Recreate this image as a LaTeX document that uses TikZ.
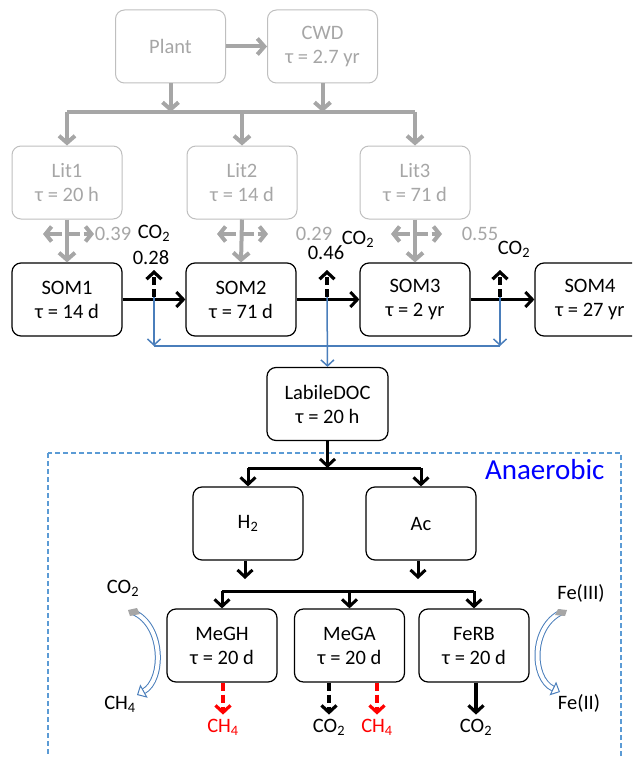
\documentclass[tikz,border=0pt]{standalone}
\usepackage{fontspec}
\setmainfont{Carlito}
\usepackage{tikz}
\usetikzlibrary{arrows.meta}
\definecolor{grisclaro}{HTML}{A6A6A6}
\definecolor{grisborde}{HTML}{BFBFBF}
\definecolor{azul}{HTML}{4A7EBB}
\definecolor{azulclaro}{HTML}{5B9BD5}

\begin{document}
\begin{tikzpicture}[x=1pt, y=-1pt,
    texto/.style={font=\fontsize{20.5}{24}\selectfont, inner sep=1pt},
    caja/.style={texto, draw, rounded corners=9pt, line width=1.2pt,
        minimum width=110pt, minimum height=73pt, align=center},
    cajagris/.style={caja, draw=grisborde, text=grisclaro, line width=1pt},
    flechagris/.style={-{Straight Barb[length=7pt,width=16pt]}, line width=4pt, grisclaro},
    lineagris/.style={line width=4pt, grisclaro},
    flecha/.style={-{Straight Barb[length=7pt,width=15pt]}, line width=3pt},
    linea/.style={line width=3pt},
    flechaazul/.style={-{Straight Barb[length=6pt,width=13pt]}, line width=1.5pt, azul},
    salida/.style={flecha, line width=3.2pt, dash pattern=on 8pt off 4pt},
    curva/.style={draw=azul, line width=1pt, double=white, double distance=4pt,
        -{Triangle[open, length=8pt, width=15pt]}}]

% Marco
\path[use as bounding box] (0,0) rectangle (632,757);
\clip (0,0) rectangle (632,757);

% Zona anaerobica
\draw[azulclaro, line width=1.3pt, dash pattern=on 5pt off 3pt] (48,453) rectangle (621,790);
\node[font=\fontsize{29}{33}\selectfont, text=blue, anchor=east] (anaer) at (608,470) {Anaerobic};

% Planta y hojarasca
\node[cajagris] (plant) at (170.5,46.5) {Plant};
\node[cajagris] (cwd) at (322.5,46.5) {CWD\\τ = 2.7 yr};
\foreach \n/\x/\vida in {1/67/20 h, 2/242/14 d, 3/415/71 d}
    \node[cajagris] (lit\n) at (\x,182.5) {Lit\n\\τ = \vida};

% Suelo
\foreach \n/\x/\vida in {1/67/14 d, 2/241/71 d, 3/415/2 yr, 4/590/27 yr}
    \node[caja] (som\n) at (\x,299.5) {SOM\n\\τ = \vida};
\node[caja, minimum width=121pt] (ldoc) at (327.5,404) {LabileDOC\\τ = 20 h};

% Anaerobios
\node[caja] (htwo) at (248,523.5) {H\textsubscript{2}};
\node[caja] (ac) at (421,523.5) {Ac};
\node[caja] (megh) at (222,645.5) {MeGH\\τ = 20 d};
\node[caja] (mega) at (349.5,645.5) {MeGA\\τ = 20 d};
\node[caja] (ferb) at (474,645.5) {FeRB\\τ = 20 d};

% Flechas grises
\coordinate (gbar) at (0,112);
\draw[flechagris] (plant) -- (cwd);
\draw[flechagris] (plant.south) -- (plant.south |- gbar);
\draw[flechagris] (cwd.south) -- (cwd.south |- gbar);
\draw[lineagris] (lit1.north |- gbar) -- (lit3.north |- gbar);
\foreach \n in {1,2,3}{
    \draw[flechagris] (lit\n.north |- gbar) -- (lit\n.north);
    \draw[flechagris] (lit\n.south) -- (som\n.north);
}
\foreach \n/\x in {1/67, 2/241, 3/415}{
    \coordinate (iz\n) at (\x-24,234);
    \coordinate (de\n) at (\x+27,234);
    \draw[lineagris, {Straight Barb[length=6pt,width=15pt]}-{Straight Barb[length=6pt,width=15pt]},
        dash pattern=on 14pt off 4pt] (iz\n) -- (de\n);
}
\node[texto, text=grisclaro] (fr1) at (113,234) {0.39};
\node[texto, text=grisclaro] (fr2) at (314,234) {0.29};
\node[texto, text=grisclaro] (fr3) at (480,234) {0.55};

% Respiracion
\node[texto] (c1) at (154,233) {CO\textsubscript{2}};
\node[texto] (k1) at (151,258) {0.28};
\node[texto] (c2) at (358,239) {CO\textsubscript{2}};
\node[texto] (k2) at (326,253) {0.46};
\node[texto] (c3) at (514,249) {CO\textsubscript{2}};
\foreach \n/\x in {1/154, 2/327, 3/500}{
    \coordinate (b\n) at (\x,297);
    \coordinate (t\n) at (\x,270);
}

% Flechas del suelo
\draw[flecha] (som1) -- (som2);
\draw[flecha] (som2) -- (som3);
\draw[flecha] (som3) -- (som4);
\coordinate (abar) at (0,346);
\draw[flechaazul] (b1) -- (b1 |- abar);
\draw[flechaazul] (b3) -- (b3 |- abar);
\draw[azul, line width=1.5pt] (b1 |- abar) -- (b3 |- abar);
\draw[flechaazul] (b2) -- (ldoc.north);
\foreach \n in {1,2,3}
    \draw[salida] (b\n) -- (t\n);

% Flechas anaerobias
\coordinate (nbar) at (0,468);
\draw[flecha] (ldoc.south) -- (ldoc.south |- nbar);
\draw[linea] (htwo.north |- nbar) -- (ac.north |- nbar);
\draw[flecha] (htwo.north |- nbar) -- (htwo.north);
\draw[flecha] (ac.north |- nbar) -- (ac.north);
\coordinate (mbar) at (0,591);
\coordinate (hfin) at (245,579);
\coordinate (afin) at (418,579);
\draw[flecha] (htwo.south -| hfin) -- (hfin);
\draw[flecha] (ac.south -| afin) -- (afin);
\draw[linea] (megh.north |- mbar) -- (ferb.north |- mbar);
\foreach \n in {megh,mega,ferb}
    \draw[flecha] (\n.north |- mbar) -- (\n.north);

% Productos
\node[texto, text=red] (o1) at (223,727) {CH\textsubscript{4}};
\node[texto] (o2) at (329,727) {CO\textsubscript{2}};
\node[texto, text=red] (o3) at (377,727) {CH\textsubscript{4}};
\node[texto] (o4) at (476,727) {CO\textsubscript{2}};
\draw[salida, red, shorten >=3pt] (o1.north |- megh.south) -- (o1.north);
\draw[salida, shorten >=3pt] (o2.north |- mega.south) -- (o2.north);
\draw[salida, red, shorten >=3pt] (o3.north |- mega.south) -- (o3.north);
\draw[flecha, line width=3.2pt, shorten >=3pt] (o4.north |- ferb.south) -- (o4.north);

% Reducciones
\node[texto] (l1) at (123,588) {CO\textsubscript{2}};
\node[texto] (l2) at (120,704) {CH\textsubscript{4}};
\node[texto] (r1) at (581,593) {Fe(III)};
\node[texto] (r2) at (579,703) {Fe(II)};
\coordinate (ci1) at (133,612);
\coordinate (cf1) at (137,695);
\coordinate (ci2) at (562,612);
\coordinate (cf2) at (560,692);
\draw[curva] (ci1) .. controls (164,625) and (164,680) .. (cf1);
\draw[curva] (ci2) .. controls (531,626) and (531,678) .. (cf2);
\fill[grisclaro] (128,610) -- (137,608) -- (140,614) -- (130,616) -- cycle;
\fill[grisclaro] (567,610) -- (558,609) -- (555,615) -- (565,616) -- cycle;

\end{tikzpicture}
\end{document}
